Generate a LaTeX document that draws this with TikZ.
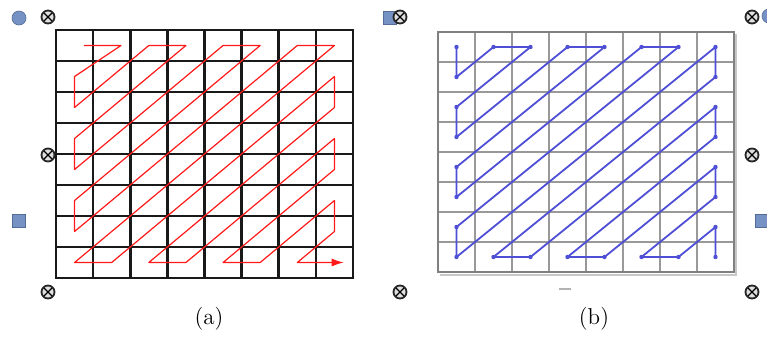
\documentclass[tikz,border=0pt]{standalone}
\usepackage{tikz}
\usetikzlibrary{arrows.meta,positioning}
\definecolor{handleblue}{RGB}{118,146,196}
\definecolor{handleedge}{RGB}{84,108,152}
\definecolor{scanblue}{RGB}{78,78,214}

\begin{document}
\begin{tikzpicture}[x=0.5pt,y=-0.5pt,
        gridA/.style={black!90,line width=1.3pt,line cap=rect},
        gridB/.style={black!40,line width=0.75pt},
        scanA/.style={red!90,line width=0.6pt,line join=round},
        scanB/.style={scanblue,line width=0.9pt,line join=round},
        sizer/.style={circle,draw=black!85,line width=0.9pt,fill=black!12,inner sep=0pt,minimum size=6.5pt,
            path picture={\draw[black,line width=0.55pt]
                (path picture bounding box.north west) -- (path picture bounding box.south east)
                (path picture bounding box.south west) -- (path picture bounding box.north east);}},
        knob/.style={circle,draw=handleedge,fill=handleblue,line width=0.3pt,inner sep=0pt,minimum size=7pt},
        knobsq/.style={rectangle,draw=handleedge,fill=handleblue,line width=0.3pt,inner sep=0pt,minimum size=6.5pt},
        caption/.style={font=\fontsize{11.5}{13}\selectfont}]
    \clip (0,0) rectangle (767,338);
    \fill[white] (0,0) rectangle (767,338);

    % (a) grid with red scan
    \begin{scope}[shift={(56,30)},x=18.5625pt,y=-15.5pt]
        \foreach \i in {0,...,8} {
            \draw[gridA] (\i,0) -- (\i,8);
            \draw[gridA] (0,\i) -- (8,\i);
        }
        \draw[scanA,-{Latex[length=6pt,width=4pt]}] (0.75,0.5) -- (1.75,0.5) -- (0.5,1.5) -- (0.5,2.5)
            -- (2.5,0.5) -- (3.5,0.5) -- (0.5,3.5) -- (0.5,4.5) -- (4.5,0.5) -- (5.5,0.5)
            -- (0.5,5.5) -- (0.5,6.5) -- (6.5,0.5) -- (7.5,0.5) -- (0.5,7.5) -- (1.5,7.5)
            -- (7.5,1.5) -- (7.5,2.5) -- (2.5,7.5) -- (3.5,7.5) -- (7.5,3.5) -- (7.5,4.5)
            -- (4.5,7.5) -- (5.5,7.5) -- (7.5,5.5) -- (7.5,6.5) -- (6.5,7.5) -- (7.75,7.5);
    \end{scope}

    % (b) grid with blue scan
    \begin{scope}[shift={(438,32)},x=18.5pt,y=-15pt]
        \draw[black!22,line width=1.2pt] (0.06,8.1) -- (8.06,8.1) -- (8.06,0.08);
        \foreach \i in {0,...,8} {
            \draw[gridB] (\i,0) -- (\i,8);
            \draw[gridB] (0,\i) -- (8,\i);
        }
        \draw[black!50,line width=0.9pt] (0,0) rectangle (8,8);
        \draw[scanB] (0.5,0.5) -- (0.5,1.5) -- (1.5,0.5) -- (2.5,0.5) -- (0.5,2.5) -- (0.5,3.5)
            -- (3.5,0.5) -- (4.5,0.5) -- (0.5,4.5) -- (0.5,5.5) -- (5.5,0.5) -- (6.5,0.5)
            -- (0.5,6.5) -- (0.5,7.5) -- (7.5,0.5) -- (7.5,1.5) -- (1.5,7.5) -- (2.5,7.5)
            -- (7.5,2.5) -- (7.5,3.5) -- (3.5,7.5) -- (4.5,7.5) -- (7.5,4.5) -- (7.5,5.5)
            -- (5.5,7.5) -- (6.5,7.5) -- (7.5,6.5) -- (7.5,7.5);
        \foreach \c/\r in {0/0,0/1,1/0,2/0,0/2,0/3,3/0,4/0,0/4,0/5,5/0,6/0,0/6,0/7,7/0,7/1,
                1/7,2/7,7/2,7/3,3/7,4/7,7/4,7/5,5/7,6/7,7/6,7/7}
            \fill[scanblue] (\c+0.5,\r+0.5) circle (1.1pt);
    \end{scope}
    \draw[black!30,line width=0.6pt] (559,289) -- (571,289);

    % selection handles
    \node[knob] (blueTL) at (19,18) {};
    \node[knobsq] (blueTM) at (390,18) {};
    \node[knob] (blueTR) at (769,16) {};
    \node[knobsq] (blueML) at (19,221) {};
    \node[knobsq] (blueMR) at (762,221) {};
    \foreach \hx/\hy/\hn in {48/17/tl,400/17/tm,752/17/tr,48/155/ml,752/155/mr,48/292/bl,400/292/bm,752/292/br}
        \node[sizer] (h\hn) at (\hx,\hy) {};

    % captions
    \node[caption] (capA) at (209,319) {(a)};
    \node[caption] (capB) at (594,319) {(b)};
\end{tikzpicture}
\end{document}
